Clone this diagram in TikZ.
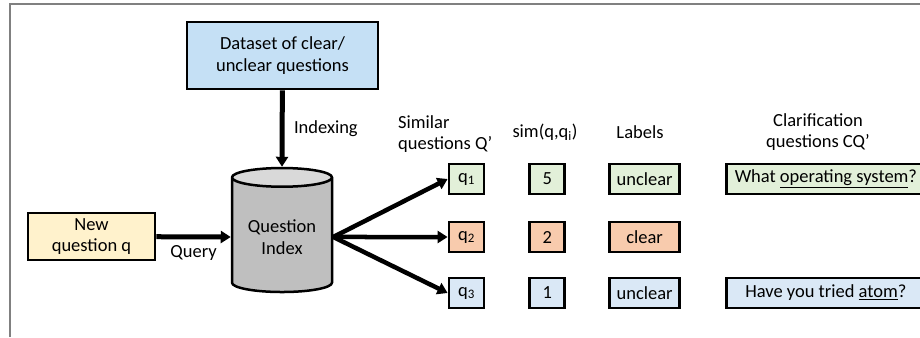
\documentclass[tikz,border=0pt]{standalone}
\usepackage{fontspec}
\setmainfont{Carlito}
\usetikzlibrary{shapes, arrows.meta, positioning}

\definecolor{dsblue}{RGB}{197,224,245}
\definecolor{qyellow}{RGB}{255,242,204}
\definecolor{rgreen}{RGB}{226,240,217}
\definecolor{rorange}{RGB}{248,203,173}
\definecolor{rblue}{RGB}{218,232,246}
\definecolor{idxgray}{RGB}{191,191,191}
\definecolor{idxtop}{RGB}{217,217,217}
\definecolor{framegray}{RGB}{128,128,128}

\tikzset{
  box/.style={draw, line width=2.8pt, inner sep=0pt, align=center},
  smallbox/.style={box, minimum width=35pt, minimum height=30pt},
  labelbox/.style={box, minimum width=70pt, minimum height=30pt},
  cqbox/.style={box, minimum width=199pt, minimum height=30pt},
  bigarrow/.style={-{Triangle[length=10pt, width=12pt]}, line width=5pt},
  fanarrow/.style={-{Triangle[length=10pt, width=12pt]}, line width=4.5pt},
}

\begin{document}
\begin{tikzpicture}[x=1pt, y=-1pt, font=\fontsize{18.5}{21.5}\selectfont]
  \useasboundingbox (0,0) rectangle (920,337);

  % frame
  \draw[framegray, line width=1.5pt] (10,337) -- (10,4) -- (920,4);

  %%%%%%%%%%%%%%%%%%
  \node (dataset) [box, fill=dsblue, minimum width=191pt, minimum height=67pt] at (282.5,55.5) {Dataset of clear/\\unclear questions};

  \node (qidx) [cylinder, shape border rotate=90, aspect=0.25, draw, line width=2.5pt,
    cylinder uses custom fill, cylinder body fill=idxgray, cylinder end fill=idxtop,
    minimum width=100pt, minimum height=124pt, align=center] at (282,237) {Question\\Index};

  \node (newq) [box, fill=qyellow, minimum width=127pt, minimum height=47pt] at (91.5,236.5) {New\\question q};

  %%%%%%%%%%%%%%%%%%
  \node (hsim) [align=left, anchor=west, inner sep=0pt] at (398,134) {Similar\\questions Q'};
  \node (hscore) at (545,132) {sim(q,q\textsubscript{i})};
  \node (hlab) at (640,132) {Labels};
  \node (hcq) [align=center] at (818,132) {Clarification\\questions CQ'};

  %%%%%%%%%%%%%%%%%%
  \node (q1) [smallbox, fill=rgreen] at (466.5,179) {q\textsubscript{1}};
  \node (q2) [smallbox, fill=rorange] at (466.5,237) {q\textsubscript{2}};
  \node (q3) [smallbox, fill=rblue] at (466.5,293) {q\textsubscript{3}};

  \node (s1) [smallbox, fill=rgreen, right=43pt of q1] {5};
  \node (s2) [smallbox, fill=rorange, right=43pt of q2] {2};
  \node (s3) [smallbox, fill=rblue, right=43pt of q3] {1};

  \node (l1) [labelbox, fill=rgreen, right=42pt of s1] {unclear};
  \node (l2) [labelbox, fill=rorange, right=42pt of s2] {clear};
  \node (l3) [labelbox, fill=rblue, right=42pt of s3] {unclear};

  \node (c1) [cqbox, fill=rgreen, right=44pt of l1] {What \underline{operating system}?};
  \node (c3) [cqbox, fill=rblue, right=44pt of l3] {Have you tried \underline{atom}?};

  %%%%%%%%%%%%%%%%%%%%
  \draw [bigarrow] (dataset) -- node[right=6pt]{Indexing} (qidx.north);
  \draw [bigarrow] (newq) -- node[below=3pt]{Query} (qidx.west);

  \draw [fanarrow] (qidx.east) -- (q1.west);
  \draw [fanarrow] (qidx.east) -- (q2.west);
  \draw [fanarrow] (qidx.east) -- (q3.west);

\end{tikzpicture}
\end{document}
